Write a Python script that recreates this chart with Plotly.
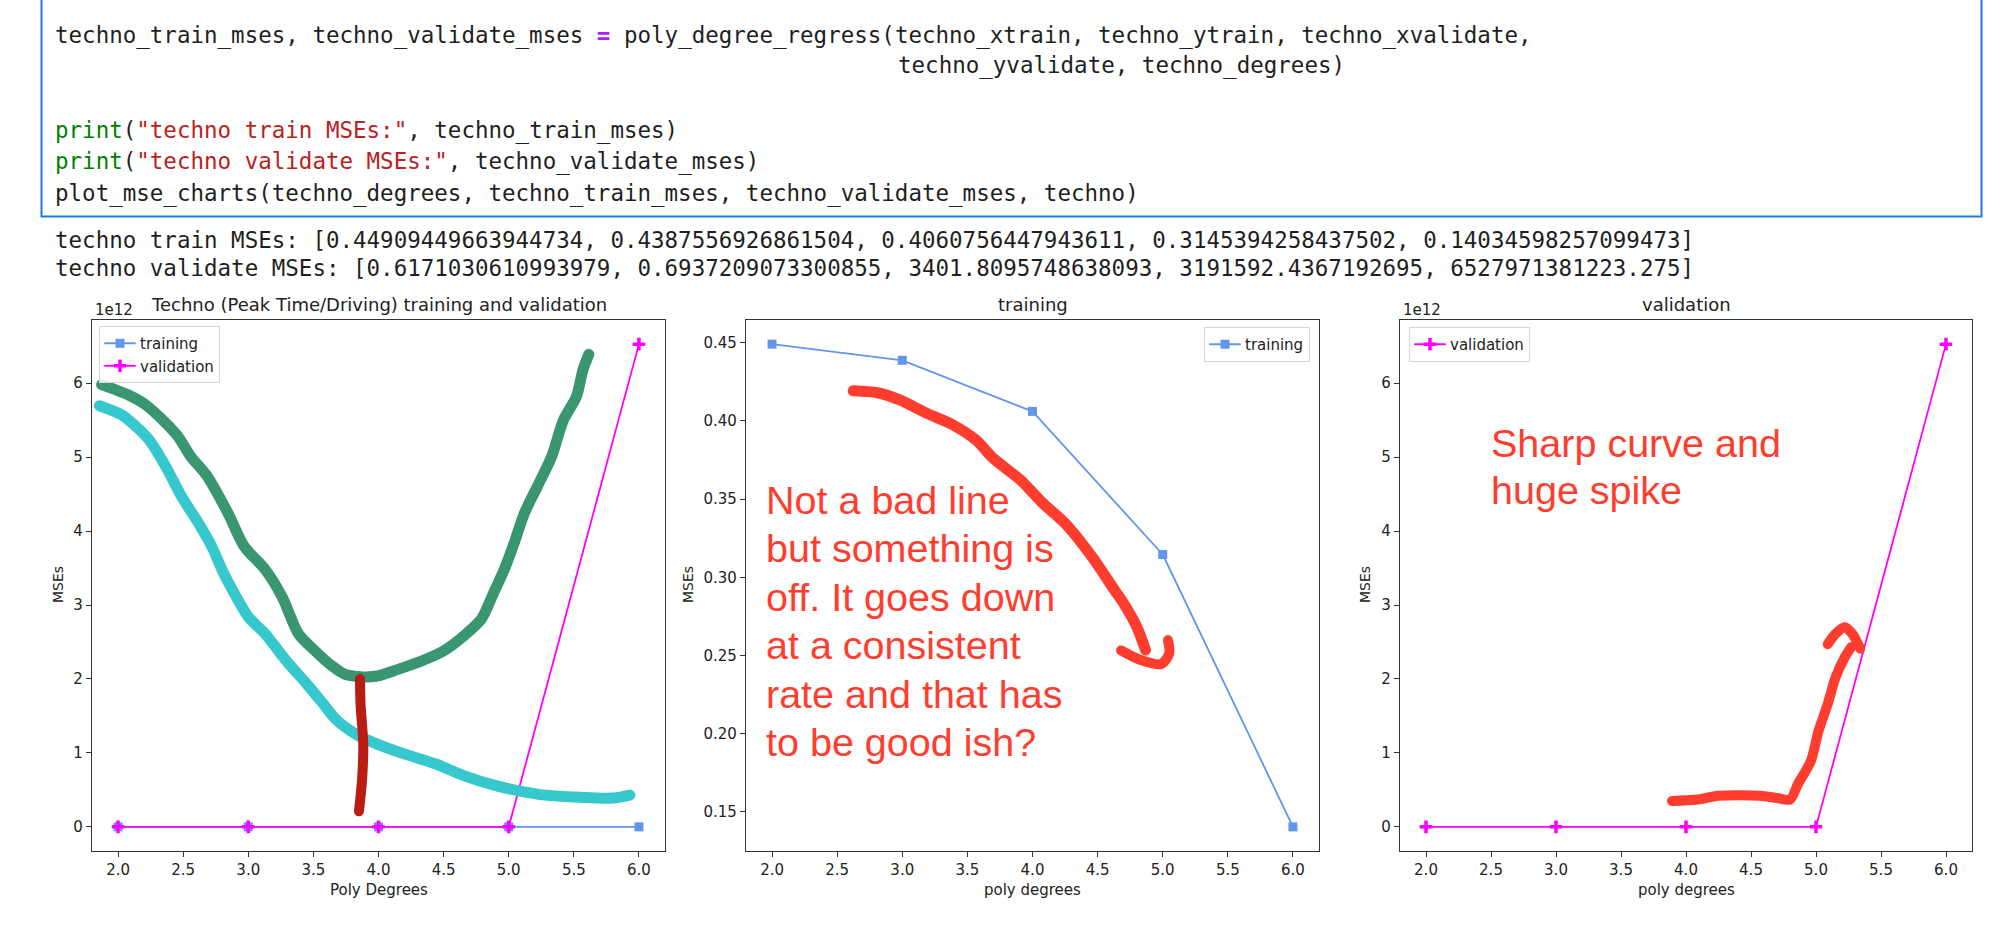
import plotly.graph_objects as go

W, H = 2000, 928

# ---------------- data ----------------
degrees = [2, 3, 4, 5, 6]
train_mses = [0.44909449663944734, 0.4387556926861504, 0.4060756447943611,
              0.3145394258437502, 0.14034598257099473]
validate_mses = [0.6171030610993979, 0.6937209073300855, 3401.8095748638093,
                 3191592.4367192695, 6527971381223.275]

x_tick_vals = [2.0, 2.5, 3.0, 3.5, 4.0, 4.5, 5.0, 5.5, 6.0]
big_tick_vals = [0, 1e12, 2e12, 3e12, 4e12, 5e12, 6e12]
big_tick_text = ["0", "1", "2", "3", "4", "5", "6"]
train_tick_vals = [0.15, 0.20, 0.25, 0.30, 0.35, 0.40, 0.45]

# hand-drawn annotation strokes (in each panel's data units)
green_x = [1.874, 2.08, 2.21, 2.367, 2.46, 2.558, 2.685, 2.845, 2.97, 3.13, 3.26, 3.386, 3.513,
           3.64, 3.735, 3.864, 3.99, 4.15, 4.34, 4.50, 4.66, 4.79, 4.88, 4.97, 5.04, 5.12,
           5.233, 5.33, 5.42, 5.52, 5.57, 5.615]
green_y = [5.98e12, 5.84e12, 5.71e12, 5.46e12, 5.28e12, 5.01e12, 4.74e12, 4.24e12, 3.79e12,
           3.48e12, 3.11e12, 2.61e12, 2.38e12, 2.18e12, 2.07e12, 2.03e12, 2.04e12, 2.13e12,
           2.25e12, 2.38e12, 2.59e12, 2.81e12, 3.15e12, 3.50e12, 3.83e12, 4.24e12, 4.65e12,
           5.01e12, 5.50e12, 5.82e12, 6.18e12, 6.39e12]
cyan_x = [1.857, 2.03, 2.14, 2.24, 2.367, 2.49, 2.62, 2.72, 2.80, 2.88, 3.00, 3.13, 3.29, 3.45,
          3.577, 3.67, 3.83, 3.99, 4.21, 4.44, 4.66, 4.915, 5.23, 5.55, 5.805, 5.93]
cyan_y = [5.695e12, 5.57e12, 5.41e12, 5.23e12, 4.87e12, 4.46e12, 4.10e12, 3.79e12, 3.47e12,
          3.20e12, 2.84e12, 2.61e12, 2.25e12, 1.93e12, 1.66e12, 1.46e12, 1.25e12, 1.12e12,
          0.98e12, 0.85e12, 0.69e12, 0.55e12, 0.44e12, 0.40e12, 0.39e12, 0.43e12]
darkred_x = [3.858, 3.862, 3.883, 3.875, 3.85]
darkred_y = [2.0e12, 1.66e12, 1.12e12, 0.67e12, 0.21e12]
red2_x = [2.623, 2.81, 2.98, 3.19, 3.39, 3.566, 3.70, 3.908, 4.08, 4.25, 4.457, 4.63, 4.70,
          4.80, 4.868]
red2_y = [0.4193, 0.418, 0.4134, 0.4048, 0.3974, 0.3878, 0.376, 0.3622, 0.3473, 0.3345,
          0.3131, 0.2918, 0.2833, 0.2684, 0.2535]
red2_head_x = [4.68, 4.83, 4.99, 5.05, 5.04]
red2_head_y = [0.2532, 0.247, 0.2445, 0.2513, 0.2598]
red3_x = [3.893, 4.09, 4.25, 4.57, 4.70, 4.80, 4.86, 4.96, 5.02, 5.09, 5.15, 5.22, 5.27]
red3_y = [0.35e12, 0.37e12, 0.42e12, 0.42e12, 0.39e12, 0.37e12, 0.575e12, 0.89e12, 1.30e12,
          1.66e12, 2.02e12, 2.29e12, 2.43e12]
red3_head_x = [5.09, 5.15, 5.22, 5.28, 5.34]
red3_head_y = [2.47e12, 2.61e12, 2.70e12, 2.61e12, 2.41e12]

# texts
code_lines = [
    "techno_train_mses, techno_validate_mses <b><span style='color:#AA22FF'>=</span></b> "
    "poly_degree_regress(techno_xtrain, techno_ytrain, techno_xvalidate,",
    "techno_yvalidate, techno_degrees)",
    "<span style='color:#008000'>print</span>(<span style='color:#BA2121'>\"techno train MSEs:\"</span>, techno_train_mses)",
    "<span style='color:#008000'>print</span>(<span style='color:#BA2121'>\"techno validate MSEs:\"</span>, techno_validate_mses)",
    "plot_mse_charts(techno_degrees, techno_train_mses, techno_validate_mses, techno)",
]
output_lines = [
    "techno train MSEs: [0.44909449663944734, 0.4387556926861504, 0.4060756447943611, "
    "0.3145394258437502, 0.14034598257099473]",
    "techno validate MSEs: [0.6171030610993979, 0.6937209073300855, 3401.8095748638093, "
    "3191592.4367192695, 6527971381223.275]",
]
note_training = ["Not a bad line", "but something is", "off. It goes down", "at a consistent",
                 "rate and that has", "to be good ish?"]
note_validation = ["Sharp curve and", "huge spike"]

# ---------------- styling ----------------
BLUE = "#6495ED"
MAG = "#FF00FF"
RED = "#FF3D2E"
TXT = "#222222"
SANS = "DejaVu Sans"
MONO = "DejaVu Sans Mono"
NOTE_FONT = "Liberation Sans"


def px(x):
    return x / W


def py(y):
    return 1 - y / H


def padded(vals):
    lo, hi = min(vals), max(vals)
    m = (hi - lo) * 0.05
    return [lo - m, hi + m]


x_range = padded(degrees)
ax1_range = padded(train_mses + validate_mses)
ax2_range = padded(train_mses)
ax3_range = padded(validate_mses)

Y0, Y1 = 320, 851
doms = [(92, 665), (746, 1319), (1400, 1972)]

fig = go.Figure()

train_marker = dict(symbol="square", size=9, color=BLUE)
val_marker = dict(symbol="cross-thin", size=9, color=MAG, line=dict(color=MAG, width=3.5))

# panel 1
fig.add_trace(go.Scatter(x=degrees, y=train_mses, name="training", mode="lines+markers",
                         line=dict(color=BLUE, width=1.8), marker=train_marker,
                         xaxis="x", yaxis="y", legend="legend"))
fig.add_trace(go.Scatter(x=degrees, y=validate_mses, name="validation", mode="lines+markers",
                         line=dict(color=MAG, width=1.8), marker=val_marker,
                         xaxis="x", yaxis="y", legend="legend"))
# panel 2
fig.add_trace(go.Scatter(x=degrees, y=train_mses, name="training", mode="lines+markers",
                         line=dict(color=BLUE, width=1.8), marker=train_marker,
                         xaxis="x2", yaxis="y2", legend="legend2"))
# panel 3
fig.add_trace(go.Scatter(x=degrees, y=validate_mses, name="validation", mode="lines+markers",
                         line=dict(color=MAG, width=1.8), marker=val_marker,
                         xaxis="x3", yaxis="y3", legend="legend3"))


def stroke(xs, ys, color, width, ax):
    fig.add_trace(go.Scatter(x=xs, y=ys, mode="lines", showlegend=False, hoverinfo="skip",
                             line=dict(color=color, width=width, shape="spline", smoothing=0.8),
                             xaxis="x" + ax, yaxis="y" + ax))


stroke(green_x, green_y, "#3A9670", 11, "")
stroke(cyan_x, cyan_y, "#36C8CC", 11, "")
stroke(darkred_x, darkred_y, "#B91C12", 10, "")
stroke(red2_x, red2_y, RED, 11, "2")
stroke(red2_head_x, red2_head_y, RED, 10, "2")
stroke(red3_x, red3_y, RED, 10, "3")
stroke(red3_head_x, red3_head_y, RED, 10, "3")

axis_common = dict(showgrid=False, zeroline=False, showline=True, mirror=True,
                   linecolor="#333333", linewidth=1.3, ticks="outside", ticklen=5,
                   tickwidth=1.2, tickcolor="#333333",
                   tickfont=dict(family=SANS, size=15, color=TXT))

layout = dict(
    width=W, height=H, autosize=False,
    margin=dict(l=0, r=0, t=0, b=0),
    paper_bgcolor="white", plot_bgcolor="white",
    font=dict(family=SANS, color=TXT),
    hovermode=False,
)
for i, (a, b) in enumerate(doms):
    sfx = "" if i == 0 else str(i + 1)
    layout["xaxis" + sfx] = dict(axis_common, domain=[px(a), px(b)], range=x_range,
                                 tickvals=x_tick_vals, tickformat=".1f",
                                 anchor="y" + sfx)
    layout["yaxis" + sfx] = dict(axis_common, domain=[py(Y1), py(Y0)], anchor="x" + sfx)
layout["yaxis"].update(range=ax1_range, tickvals=big_tick_vals, ticktext=big_tick_text)
layout["yaxis2"].update(range=ax2_range, tickvals=train_tick_vals, tickformat=".2f")
layout["yaxis3"].update(range=ax3_range, tickvals=big_tick_vals, ticktext=big_tick_text)

leg_common = dict(bgcolor="rgba(255,255,255,0.85)", bordercolor="#d6d6d6", borderwidth=1,
                  font=dict(family=SANS, size=15, color=TXT), itemwidth=30,
                  yanchor="top", tracegroupgap=0)
layout["legend"] = dict(leg_common, x=px(99), y=py(326), xanchor="left")
layout["legend2"] = dict(leg_common, x=px(1310), y=py(327), xanchor="right")
layout["legend3"] = dict(leg_common, x=px(1409), y=py(327), xanchor="left")

ann = []


def text(t, x, y, size, family=SANS, color=TXT, xanchor="center", angle=0):
    ann.append(dict(text=t, x=px(x), y=py(y), xref="paper", yref="paper", showarrow=False,
                    xanchor=xanchor, yanchor="middle", textangle=angle,
                    font=dict(family=family, size=size, color=color)))


# code cell
code_y = [35, 66, 130, 162, 193]
code_x = [53, 896, 53, 53, 53]
for t, x, y in zip(code_lines, code_x, code_y):
    text(t, x, y, 22.5, MONO, "#1f1f1f", "left")
for t, y in zip(output_lines, [240, 268]):
    text(t, 53, y, 22.5, MONO, "#1f1f1f", "left")

# titles
titles = ["Techno (Peak Time/Driving) training and validation", "training", "validation"]
for t, (a, b) in zip(titles, doms):
    text(t, (a + b) / 2, 304, 18)
xlabels = ["Poly Degrees", "poly degrees", "poly degrees"]
for t, (a, b) in zip(xlabels, doms):
    text(t, (a + b) / 2, 890, 15)
for xx in [58, 688, 1365]:
    text("MSEs", xx, 585, 14, angle=-90)
text("1e12", 93, 310, 15, xanchor="left")
text("1e12", 1401, 310, 15, xanchor="left")

# handwritten-style notes
for i, t in enumerate(note_training):
    text(t, 764, 500 + 48.4 * i, 39.5, NOTE_FONT, RED, "left")
for i, t in enumerate(note_validation):
    text(t, 1489, 443 + 47 * i, 39.5, NOTE_FONT, RED, "left")

layout["annotations"] = ann
layout["shapes"] = [dict(type="rect", xref="paper", yref="paper",
                         x0=px(41.5), x1=px(1981.5), y0=py(216.5), y1=py(-10),
                         line=dict(color="#1E7BE0", width=2), fillcolor="rgba(0,0,0,0)")]

fig.update_layout(**layout)

post = ("document.body.style.margin='0';document.body.style.overflow='hidden';"
        "document.querySelectorAll('path.js-line').forEach(function(p){"
        "p.style.strokeLinecap='round';p.style.strokeLinejoin='round';});")
fig.write_html("out.html", post_script=post, config={"displayModeBar": False})
